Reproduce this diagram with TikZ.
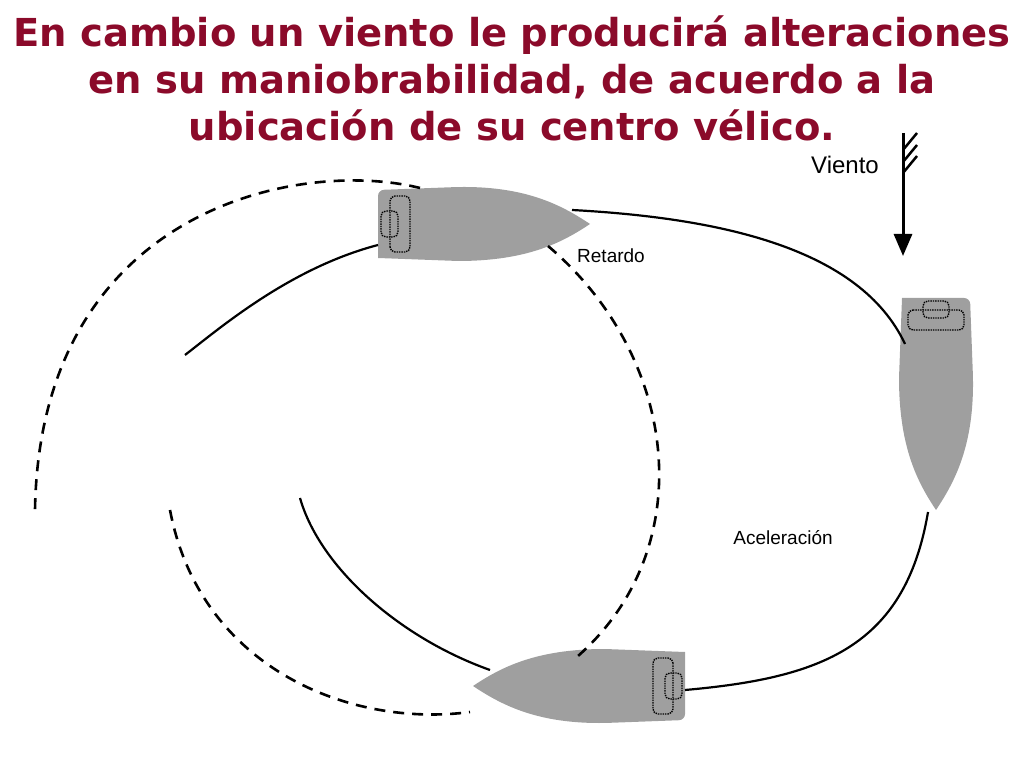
\documentclass[tikz,border=0pt]{standalone}
\usepackage{fontspec}
\setmainfont{Liberation Sans}
\newfontfamily\titlefont{DejaVu Sans}
\usetikzlibrary{arrows.meta}
\definecolor{titlered}{RGB}{139,10,42}
\tikzset{
  track/.style={line width=2.2pt},
  dtrack/.style={line width=2.6pt, dash pattern=on 11pt off 8pt},
  hull/.style={fill=gray!75, draw=none},
  cleat/.style={draw=black, densely dotted, line width=1.4pt, rounded corners=5pt},
  pics/boat/.style={code={
    % hull
    \path[hull, rounded corners=6pt] (0,-34) -- (0,34) -- (80,37)
      [sharp corners] .. controls (150,37) and (185,18) .. (212,0)
      .. controls (185,-18) and (150,-37) .. (80,-37) -- cycle;
    % cleats
    \draw[cleat] (12,-28) rectangle (32,28);
    \draw[cleat] (3,-13) rectangle (20,13);
  }}
}
\begin{document}
\begin{tikzpicture}[x=1pt,y=1pt]
  \useasboundingbox (0,0) rectangle (1024,768);

  % title
  \node[font=\titlefont\fontsize{38.5}{47}\selectfont\bfseries, text=titlered, align=center] (title) at (512,690)
    {En cambio un viento le producirá alteraciones\\en su maniobrabilidad, de acuerdo a la\\ubicación de su centro vélico.};

  % boats
  \pic (topboat) at (378,544) {boat};
  \pic[rotate=-90] (rightboat) at (936,470) {boat};
  \pic[rotate=180] (bottomboat) at (685,82) {boat};

  % solid tracks
  \draw[track] (378,523) .. controls (290,500) and (220,440) .. (185,413);
  \draw[track] (572,558) .. controls (720,550) and (860,520) .. (905,424);
  \draw[track] (928,256) .. controls (905,120) and (820,90) .. (685,78);
  \draw[track] (490,98) .. controls (400,130) and (320,200) .. (300,270);

  % dashed tracks
  \draw[dtrack] (420,580) .. controls (300,610) and (40,560) .. (35,258);
  \draw[dtrack] (548,522) .. controls (680,410) and (700,220) .. (578,112);
  \draw[dtrack] (170,258) .. controls (200,100) and (350,40) .. (470,56);

  % wind
  \coordinate (windtop) at (903,635);
  \coordinate (windtip) at (903,512);
  \draw[line width=3pt, -{Triangle[length=22pt,width=18pt]}] (windtop) -- (windtip);
  \foreach \y in {0,12,23}
    \draw[line width=2.5pt] (903,618-\y) -- (917,635-\y);
  \node[font=\fontsize{24}{28}\selectfont] (viento) at (845,603) {Viento};

  % labels
  \node[font=\fontsize{19}{22}\selectfont] (retardo) at (611,512) {Retardo};
  \node[font=\fontsize{19}{22}\selectfont] (acel) at (783,230) {Aceleración};
\end{tikzpicture}
\end{document}
